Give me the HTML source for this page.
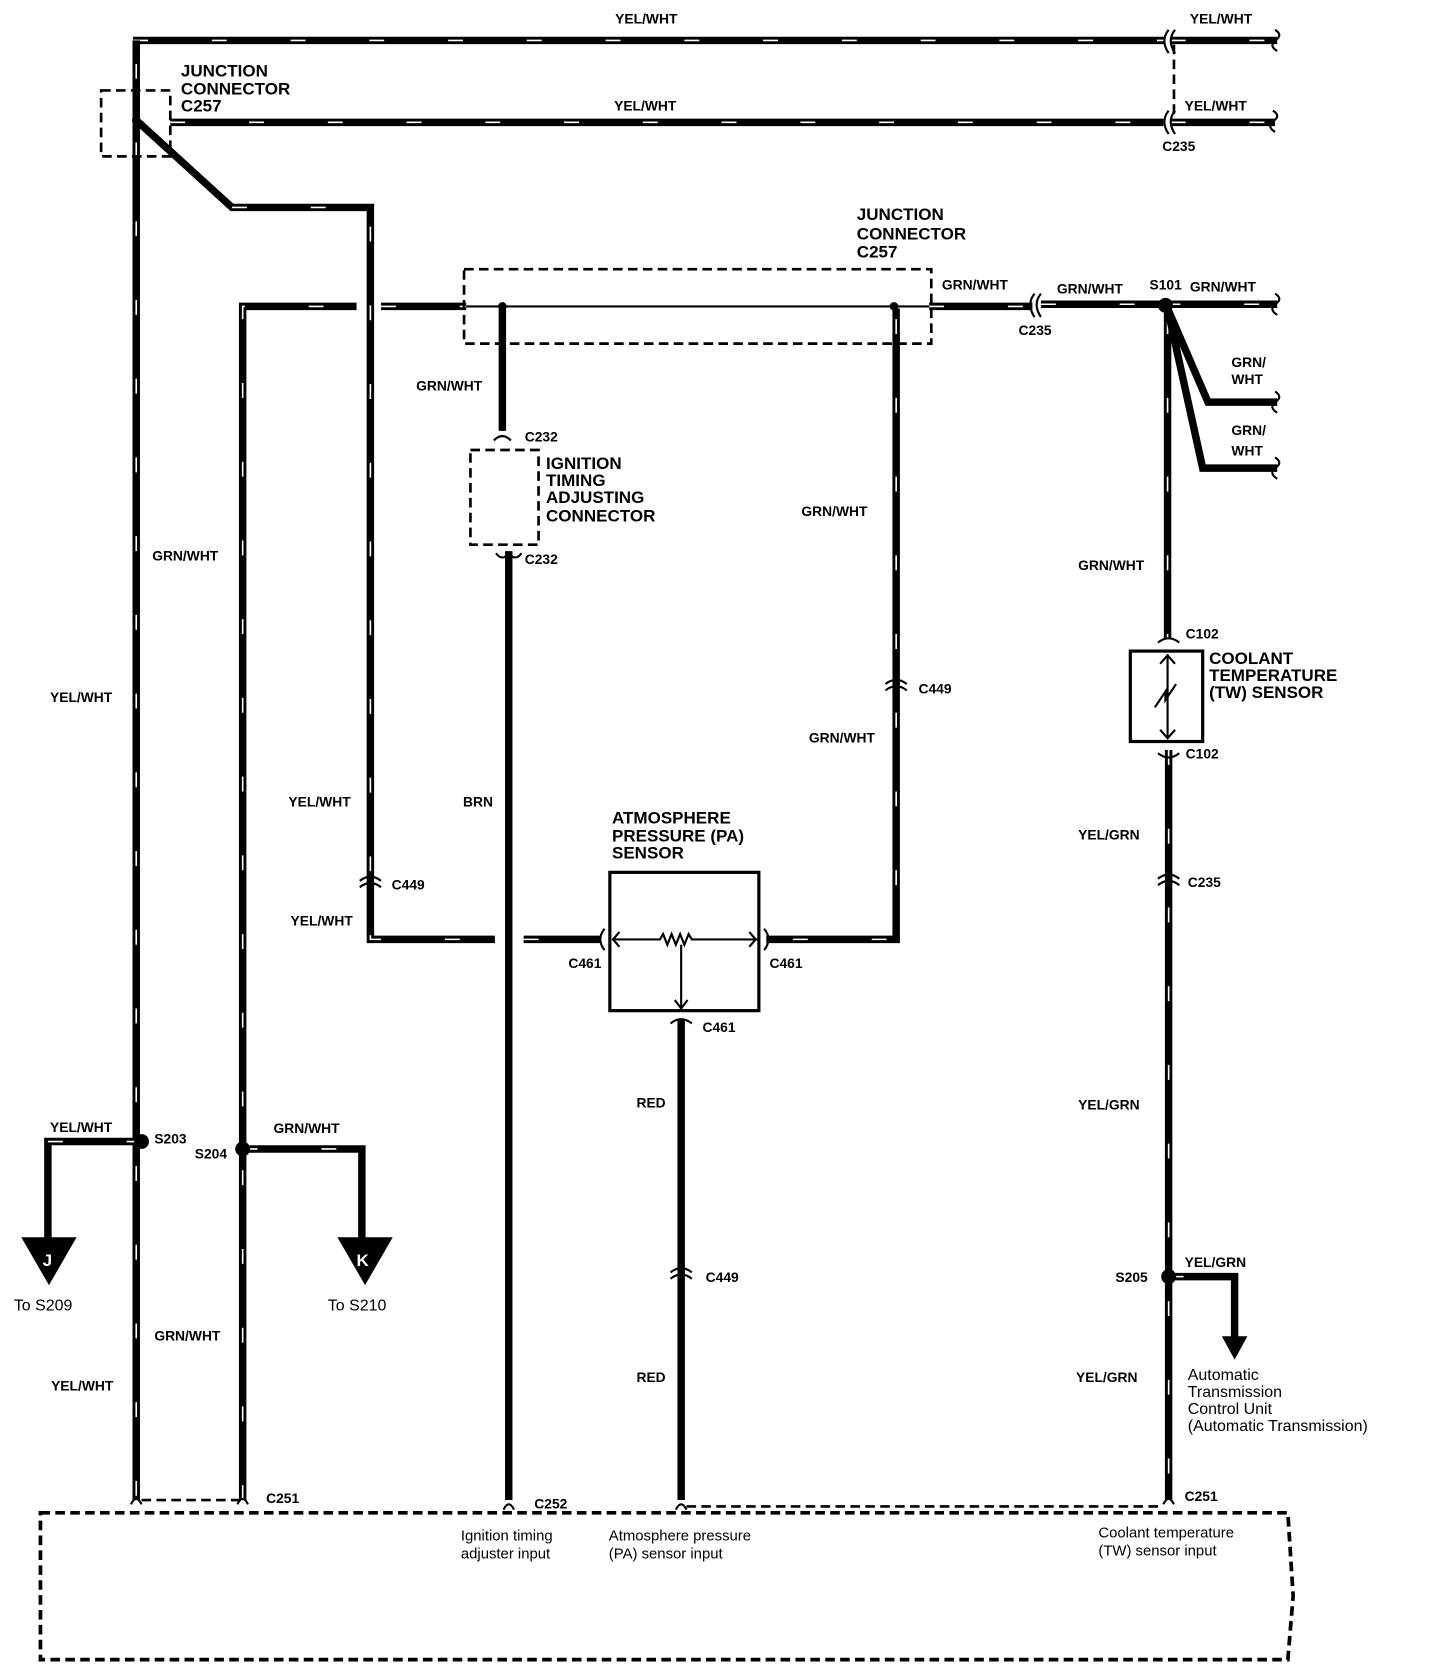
<!DOCTYPE html>
<html><head><meta charset="utf-8"><style>
html,body{margin:0;padding:0;background:#fff;}
svg{display:block}
text{font-family:"Liberation Sans",sans-serif;font-weight:bold;fill:#000;font-size:13px}
.big{font-size:16px}
.norm{font-weight:normal;font-size:15px}
</style></head><body>
<svg width="1456" height="1666" viewBox="0 0 1368 1566" preserveAspectRatio="none" xmlns="http://www.w3.org/2000/svg">
<defs>
<style>
.w{stroke:#000;stroke-width:7;fill:none}
.s{stroke:#fff;stroke-width:1.5;stroke-dasharray:14 60;fill:none}
.t{stroke:#000;stroke-width:2;fill:none}
.d{stroke:#000;stroke-width:2.5;stroke-dasharray:9 5;fill:none}
</style>
</defs>
<g>
<path class="w" d="M125,38 H1095 M1100,38 H1200"/>
<path class="s" d="M125,38 H1095 M1100,38 H1200"/>
<path class="w" d="M160,115 H1093 M1100,115 H1198"/>
<path class="s" d="M160,115 H1093 M1100,115 H1198"/>
<path class="w" d="M128,38 V1410"/>
<path class="s" d="M128,60 V1410"/>
<path class="w" d="M128,113 L218,195 H348 V883 H465 M492,883 H565"/>
<path class="s" d="M218,195 H348 V883 H465 M492,883 H565"/>
<path class="w" d="M228,1410 V288 H335 M358,288 H438"/>
<path class="s" d="M228,1410 V288 H335 M358,288 H438"/>
<path class="w" d="M472,290 V405"/>
<path class="w" d="M842,290 V883 H720"/>
<path class="s" d="M842,300 V883 H720"/>
<path class="w" d="M873,288 H970 M978,286 H1095 M1095,286 H1200"/>
<path class="s" d="M873,288 H970 M978,286 H1095 M1095,286 H1200"/>
<path class="w" d="M1097,286 V600 M1098,705 V1410"/>
<path class="s" d="M1097,300 V600 M1098,705 V1410"/>
<path class="w" d="M1097,290 L1135,378 H1200 M1097,290 L1130,440 H1200"/>
<path class="w" d="M133,1073 H45 V1165 M228,1080 H340 V1165 M1098,1200 H1160 V1260"/>
<path class="s" d="M133,1073 H45 M228,1080 H340 M1098,1200 H1160"/>
<path class="w" d="M478,518 V1410 M640,958 V1410"/>
</g>
<g class="t" stroke-width="3">
<path d="M1098,28 q-8,10 0,22 M1104,28 q-8,10 0,22"/>
<path d="M1098,104 q-8,10 0,22 M1104,104 q-8,10 0,22"/>
<path d="M972,276 q-8,10 0,22 M978,276 q-8,10 0,22"/>
<path d="M1198,28 q8,5 0,10 q-6,5 2,10 M1196,104 q8,5 0,10 q-6,5 2,10 M1198,276 q8,5 0,10 q-6,5 2,10 M1198,368 q8,5 0,10 q-6,5 2,10 M1198,430 q8,5 0,10 q-6,5 2,10"/>
<path d="M338,828 q10,-8 20,0 M338,834 q10,-8 20,0 M832,643 q10,-8 20,0 M832,649 q10,-8 20,0 M1088,826 q10,-8 20,0 M1088,832 q10,-8 20,0 M630,1196 q10,-8 20,0 M630,1202 q10,-8 20,0"/>
<path d="M464,414 q8,-8 16,0 M466,520 q6,8 12,0 q6,8 12,0 M1088,604 q10,-8 20,0 M1088,708 q10,8 20,0 M630,962 q10,-8 20,0"/>
<path d="M568,873 q-8,10 0,20 M718,873 q8,10 0,20"/>
<path d="M123,1414 q5,-10 10,0 M223,1414 q5,-10 10,0 M473,1419 q5,-10 10,0 M635,1419 q5,-10 10,0 M1093,1414 q5,-10 10,0"/>
</g>
<rect class="d" x="95" y="85" width="65" height="62"/>
<circle cx="128" cy="113" r="4"/>
<rect class="d" x="436" y="253" width="439" height="70"/>
<line class="t" x1="438" y1="288" x2="873" y2="288"/>
<circle cx="472" cy="288" r="4"/><circle cx="840" cy="288" r="4"/>
<path class="d" d="M1103,42 V110"/>
<rect class="d" x="442" y="423" width="64" height="89"/>
<circle cx="1095" cy="287" r="7"/>
<circle cx="133" cy="1073" r="7"/><circle cx="228" cy="1080" r="7"/><circle cx="1098" cy="1200" r="7"/>
<rect x="1062" y="612" width="68" height="85" fill="none" stroke="#000" stroke-width="3"/>
<path class="t" d="M1097,615 V694 M1090,624 l7,-8 7,8 M1090,686 l7,8 7,-8 M1085,665 l10,-15 0,8 10,-15"/>
<rect x="573" y="820" width="140" height="130" fill="none" stroke="#000" stroke-width="3"/>
<path class="t" d="M575,883 H620 l3,-5 4,10 4,-10 4,10 4,-10 4,10 4,-10 3,5 H712 M582,876 l-6,7 6,7 M704,876 l6,7 -6,7 M640,888 V948 M634,940 l6,8 6,-8"/>
<path d="M20,1163 H72 L46,1208 Z M317,1163 H369 L343,1208 Z M1148,1256 H1172 L1160,1278 Z"/>
<text x="40" y="1190" class="big" style="fill:#fff">J</text>
<text x="335" y="1190" class="big" style="fill:#fff">K</text>
<path class="d" d="M133,1410 H225 M645,1416 H1093"/>
<path class="d" style="stroke-width:3.5" d="M38,1422 H1210 L1215,1500 L1210,1560 H38 Z"/>
<text x="578" y="22">YEL/WHT</text><text x="1118" y="22">YEL/WHT</text>
<text x="577" y="104">YEL/WHT</text><text x="1113" y="104">YEL/WHT</text>
<text x="1092" y="142">C235</text>
<text x="170" y="72" class="big">JUNCTION</text><text x="170" y="89" class="big">CONNECTOR</text><text x="170" y="105" class="big">C257</text>
<text x="805" y="207" class="big">JUNCTION</text><text x="805" y="225" class="big">CONNECTOR</text><text x="805" y="242" class="big">C257</text>
<text x="885" y="272">GRN/WHT</text><text x="993" y="276">GRN/WHT</text><text x="1080" y="272">S101</text><text x="1118" y="274">GRN/WHT</text>
<text x="957" y="315">C235</text>
<text x="1157" y="345">GRN/</text><text x="1157" y="361">WHT</text>
<text x="1157" y="409">GRN/</text><text x="1157" y="428">WHT</text>
<text x="391" y="367">GRN/WHT</text>
<text x="493" y="415">C232</text><text x="493" y="530">C232</text>
<text x="513" y="441" class="big">IGNITION</text><text x="513" y="457" class="big">TIMING</text><text x="513" y="473" class="big">ADJUSTING</text><text x="513" y="490" class="big">CONNECTOR</text>
<text x="753" y="485">GRN/WHT</text>
<text x="1013" y="536">GRN/WHT</text>
<text x="143" y="527">GRN/WHT</text>
<text x="47" y="660">YEL/WHT</text>
<text x="1114" y="600">C102</text><text x="1114" y="713">C102</text>
<text x="1136" y="624" class="big">COOLANT</text><text x="1136" y="640" class="big">TEMPERATURE</text><text x="1136" y="656" class="big">(TW) SENSOR</text>
<text x="863" y="652">C449</text>
<text x="760" y="698">GRN/WHT</text>
<text x="271" y="758">YEL/WHT</text><text x="435" y="758">BRN</text>
<text x="1013" y="789">YEL/GRN</text>
<text x="575" y="774" class="big">ATMOSPHERE</text><text x="575" y="791" class="big">PRESSURE (PA)</text><text x="575" y="807" class="big">SENSOR</text>
<text x="368" y="836">C449</text><text x="1116" y="834">C235</text>
<text x="273" y="870">YEL/WHT</text>
<text x="534" y="910">C461</text><text x="723" y="910">C461</text><text x="660" y="970">C461</text>
<text x="598" y="1041">RED</text><text x="1013" y="1043">YEL/GRN</text>
<text x="47" y="1064">YEL/WHT</text><text x="145" y="1075">S203</text>
<text x="257" y="1065">GRN/WHT</text><text x="183" y="1089">S204</text>
<text x="1113" y="1191">YEL/GRN</text><text x="1048" y="1205">S205</text>
<text x="663" y="1205">C449</text>
<text x="13" y="1232" class="norm">To S209</text><text x="308" y="1232" class="norm">To S210</text>
<text x="145" y="1260">GRN/WHT</text>
<text x="598" y="1299">RED</text><text x="1011" y="1299">YEL/GRN</text>
<text x="48" y="1307">YEL/WHT</text>
<text x="1116" y="1297" class="norm">Automatic</text><text x="1116" y="1313" class="norm">Transmission</text><text x="1116" y="1329" class="norm">Control Unit</text><text x="1116" y="1345" class="norm">(Automatic Transmission)</text>
<text x="250" y="1413">C251</text><text x="502" y="1418">C252</text><text x="1113" y="1411">C251</text>
<text x="433" y="1448" class="norm" style="font-size:14px">Ignition timing</text><text x="433" y="1465" class="norm" style="font-size:14px">adjuster input</text>
<text x="572" y="1448" class="norm" style="font-size:14px">Atmosphere pressure</text><text x="572" y="1465" class="norm" style="font-size:14px">(PA) sensor input</text>
<text x="1032" y="1445" class="norm" style="font-size:14px">Coolant temperature</text><text x="1032" y="1462" class="norm" style="font-size:14px">(TW) sensor input</text>
</svg>
</body></html>
